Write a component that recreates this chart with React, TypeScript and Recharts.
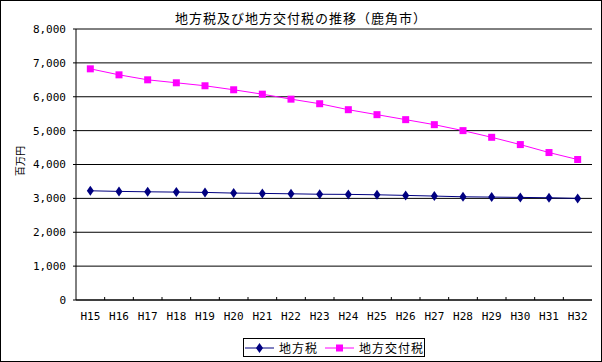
import { LineChart, Line, XAxis, YAxis, CartesianGrid } from "recharts";

const TITLE = "地方税及び地方交付税の推移（鹿角市）";
const Y_LABEL = "百万円";

const categories = [
  "H15", "H16", "H17", "H18", "H19", "H20", "H21", "H22", "H23",
  "H24", "H25", "H26", "H27", "H28", "H29", "H30", "H31", "H32",
];

// 地方税
const chihouzei = [
  3224, 3206, 3194, 3185, 3176, 3156, 3147, 3135, 3122,
  3118, 3106, 3088, 3068, 3047, 3038, 3029, 3018, 3000,
];

// 地方交付税
const kofuzei = [
  6824, 6647, 6500, 6412, 6324, 6206, 6076, 5929, 5794,
  5618, 5471, 5324, 5176, 5000, 4803, 4588, 4353, 4147,
];

const yTicks = [0, 1000, 2000, 3000, 4000, 5000, 6000, 7000, 8000];

const SERIES = [
  { key: "chihouzei", name: "地方税", color: "#000080", marker: "diamond" },
  { key: "kofuzei", name: "地方交付税", color: "#FF00FF", marker: "square" },
];

const data = categories.map((c, i) => ({
  year: c,
  chihouzei: chihouzei[i],
  kofuzei: kofuzei[i],
}));

const MONO = "'DejaVu Sans Mono', monospace";
const JP = "'Noto Sans CJK JP', sans-serif";
const X_TICK_MARGIN = 12;

function Marker({ cx, cy, kind, color }: { cx: number; cy: number; kind: string; color: string }) {
  if (cx == null || cy == null) return null;
  if (kind === "square") {
    return <rect x={cx - 3.5} y={cy - 3.5} width={7} height={7} fill={color} />;
  }
  return (
    <polygon
      points={`${cx},${cy - 5} ${cx + 3.5},${cy} ${cx},${cy + 5} ${cx - 3.5},${cy}`}
      fill={color}
    />
  );
}

function XTick(props: any) {
  const { x, y, payload, index } = props;
  const half = payload?.offset ?? 0;
  const axisY = y - X_TICK_MARGIN;
  return (
    <g>
      {index > 0 && (
        <line x1={x - half} x2={x - half} y1={axisY} y2={axisY - 3} stroke="#000" />
      )}
      <text
        x={x}
        y={y}
        dy="0.71em"
        textAnchor="middle"
        fontSize={11}
        fontFamily={MONO}
        fill="#000"
      >
        {payload.value}
      </text>
    </g>
  );
}

export default function App() {
  return (
    <div
      style={{
        position: "absolute",
        left: 0,
        top: 0,
        width: 602,
        height: 362,
        background: "#fff",
        fontFamily: JP,
      }}
    >
      <LineChart
        width={602}
        height={362}
        data={data}
        margin={{ top: 29, right: 10, left: 0, bottom: 32 }}
      >
        <CartesianGrid vertical={false} stroke="#000" />
        <XAxis
          dataKey="year"
          scale="band"
          interval={0}
          height={30}
          tickSize={0}
          tickMargin={X_TICK_MARGIN}
          tickLine={false}
          axisLine={{ stroke: "#000" }}
          tick={<XTick />}
        />
        <XAxis
          xAxisId="top"
          orientation="top"
          dataKey="year"
          scale="band"
          height={0}
          tick={false}
          tickLine={false}
          axisLine={{ stroke: "#808080" }}
        />
        <YAxis
          width={76}
          domain={[0, 8000]}
          ticks={yTicks}
          interval={0}
          tickSize={3}
          tickMargin={7}
          tickLine={{ stroke: "#000" }}
          axisLine={{ stroke: "#000" }}
          tickFormatter={(v: number) => v.toLocaleString("en-US")}
          tick={{ fontSize: 11, fill: "#000", fontFamily: MONO }}
        />
        <YAxis
          yAxisId="right"
          orientation="right"
          width={0}
          domain={[0, 8000]}
          tick={false}
          tickLine={false}
          axisLine={{ stroke: "#808080" }}
        />
        {SERIES.map((s) => (
          <Line
            key={s.key}
            type="linear"
            dataKey={s.key}
            name={s.name}
            stroke={s.color}
            strokeWidth={1}
            isAnimationActive={false}
            dot={(p: any) => (
              <Marker key={`${s.key}-${p.index}`} cx={p.cx} cy={p.cy} kind={s.marker} color={s.color} />
            )}
            activeDot={false}
          />
        ))}
      </LineChart>

      <div
        style={{
          position: "absolute",
          left: 0,
          top: 11,
          width: 602,
          textAlign: "center",
          fontSize: 13,
          lineHeight: "13px",
          letterSpacing: 1,
          color: "#000",
        }}
      >
        {TITLE}
      </div>

      <div
        style={{
          position: "absolute",
          left: 19.5,
          top: 161,
          transform: "translate(-50%, -50%) rotate(-90deg)",
          fontSize: 10,
          lineHeight: "10px",
          whiteSpace: "nowrap",
          color: "#000",
        }}
      >
        {Y_LABEL}
      </div>

      <div
        style={{
          position: "absolute",
          left: 243,
          top: 338,
          width: 182,
          height: 19,
          boxSizing: "border-box",
          border: "1px solid #000",
          display: "flex",
          alignItems: "center",
          paddingLeft: 1,
          fontSize: 12,
          letterSpacing: 1,
          color: "#000",
          background: "#fff",
        }}
      >
        {SERIES.map((s, i) => (
          <div
            key={s.key}
            style={{ display: "flex", alignItems: "center", marginLeft: i === 0 ? 0 : 7 }}
          >
            <svg width={29} height={12} style={{ display: "block" }}>
              <line x1={0} x2={29} y1={6} y2={6} stroke={s.color} strokeWidth={1} />
              <Marker cx={14.5} cy={6} kind={s.marker} color={s.color} />
            </svg>
            <span style={{ marginLeft: 5, lineHeight: "12px" }}>{s.name}</span>
          </div>
        ))}
      </div>

      <div
        style={{
          position: "absolute",
          left: 0,
          top: 0,
          width: 602,
          height: 362,
          boxSizing: "border-box",
          border: "1px solid #000",
          pointerEvents: "none",
        }}
      />
    </div>
  );
}
